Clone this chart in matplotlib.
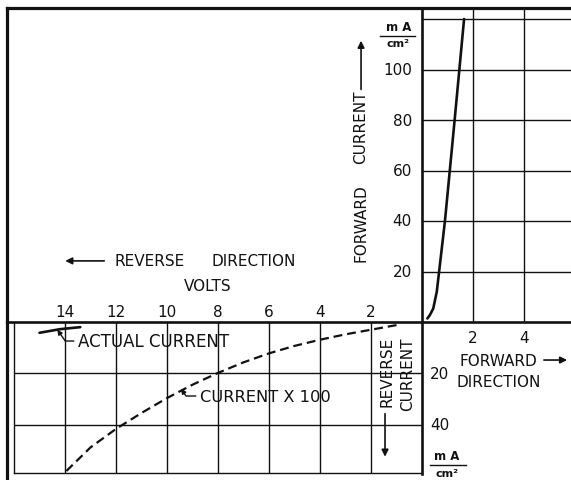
import matplotlib
matplotlib.use("Agg")
import matplotlib.pyplot as plt

# Forward characteristic (volts, mA/cm2)
fwd_volts = [0.21, 0.30, 0.44, 0.58, 0.90, 1.28, 1.65]
fwd_current = [1.4, 2.6, 5.3, 12.0, 40.0, 80.0, 120.0]

# Reverse characteristic, current x 100 (volts, mA/cm2)
rev_volts = [1, 2, 3, 4, 5, 6, 7, 8, 9, 10, 11, 12, 13, 14]
rev_current_x100 = [1.2, 3.0, 4.8, 6.9, 9.3, 12.2, 15.7, 19.8, 24.4, 29.6,
                    35.4, 41.6, 48.8, 58.5]

# Reverse characteristic, actual current
actual_volts = [15.0, 14.2, 13.4]
actual_current = [4.2, 2.8, 2.0]

# Grid / ticks
fwd_grid_volts = [2, 4]
fwd_grid_current = [20, 40, 60, 80, 100, 120]
fwd_tick_current = [20, 40, 60, 80, 100]
rev_grid_volts = [2, 4, 6, 8, 10, 12, 14]
rev_grid_current = [20, 40]

# pixel scale of the drawing
PX_V = 25.5
X0 = 422
Y0 = 323
PX_F = 2.525
PX_R = 2.57
W, H = 571, 481

fig = plt.figure(figsize=(W / 100, H / 100), dpi=100)
fig.patch.set_facecolor("white")
ax_f = fig.add_axes([0, (H - Y0) / H, 1, Y0 / H])
ax_r = fig.add_axes([0, 0, 1, (H - Y0) / H])

xlim = (-X0 / PX_V, (W - X0) / PX_V)
for ax in (ax_f, ax_r):
    ax.set_xlim(*xlim)
    ax.set_axis_off()
ax_f.set_ylim(0, Y0 / PX_F)
ax_r.set_ylim((H - Y0) / PX_R, 0)

ink = "#111111"
grid_lw = 1.0
axis_lw = 1.9
border_lw = 2.3
fs = 11

top = 124.4
left = -16.27
inner_left = -16.0
bottom = 58.6
right = xlim[1]

# border
ax_f.plot([left, right], [top, top], color=ink, lw=border_lw, clip_on=False)
ax_f.plot([left, left], [0, top], color=ink, lw=border_lw, clip_on=False)
ax_r.plot([left, left], [0, 62], color=ink, lw=border_lw, clip_on=False)
ax_r.plot([inner_left, inner_left], [0, bottom], color=ink, lw=grid_lw)
ax_r.plot([inner_left, 0], [bottom, bottom], color=ink, lw=grid_lw)

# grid, forward quadrant
ax_f.vlines(fwd_grid_volts, 0, top, color=ink, lw=grid_lw)
ax_f.hlines(fwd_grid_current, 0, right, color=ink, lw=grid_lw)
# grid, reverse quadrant
ax_r.vlines([-v for v in rev_grid_volts], 0, bottom, color=ink, lw=grid_lw)
ax_r.hlines(rev_grid_current, inner_left, 0, color=ink, lw=grid_lw)

# main axes
ax_f.plot([0, 0], [0, top], color=ink, lw=axis_lw, clip_on=False)
ax_r.plot([0, 0], [0, 59], color=ink, lw=axis_lw, clip_on=False)
ax_f.plot([left, right], [0, 0], color=ink, lw=axis_lw, clip_on=False)

# curves
ax_f.plot(fwd_volts, fwd_current, color=ink, lw=1.9, solid_capstyle="round",
          solid_joinstyle="round")
ax_r.plot([-v for v in rev_volts], rev_current_x100, color=ink, lw=1.6,
          ls=(0, (4, 2.2)))
ax_r.plot([-v for v in actual_volts], actual_current, color=ink, lw=1.9,
          solid_capstyle="round")

txt = dict(color=ink, fontsize=fs, family="DejaVu Sans")
leader = dict(arrowstyle="-|>", color=ink, lw=1.0, mutation_scale=7,
              shrinkA=1, shrinkB=0,
              connectionstyle="angle,angleA=0,angleB=-55,rad=0")
arrow = dict(arrowstyle="-|>", color=ink, lw=1.2, mutation_scale=10)

# reverse volts labels
for v in rev_grid_volts:
    ax_f.text(-v, 4.0, str(v), ha="center", va="center", **txt)
ax_f.text(-8.39, 14.3, "VOLTS", ha="center", va="center", **txt)
ax_f.text(-12.04, 24.2, "REVERSE", ha="left", va="center", **txt)
ax_f.text(-8.27, 24.2, "DIRECTION", ha="left", va="center", **txt)
ax_f.annotate("", xy=(-14.1, 24.2), xytext=(-12.35, 24.2), arrowprops=arrow)

# forward current labels
for c in fwd_tick_current:
    ax_f.text(-0.4, c, str(c), ha="right", va="center", **txt)
ax_f.text(-0.93, 117.0, "m A", ha="center", va="center", color=ink,
          fontsize=8.5, fontweight="bold")
ax_f.plot([-1.65, -0.27], [113.3, 113.3], color=ink, lw=1.0)
ax_f.text(-0.94, 110.4, "cm²", ha="center", va="center", color=ink,
          fontsize=8, fontweight="bold")
ax_f.text(-2.39, 39.6, "FORWARD", rotation=90, ha="center", va="center", **txt)
ax_f.text(-2.39, 77.6, "CURRENT", rotation=90, ha="center", va="center", **txt)
ax_f.annotate("", xy=(-2.39, 112.5), xytext=(-2.39, 91.0), arrowprops=arrow)

# reverse quadrant annotations
ax_r.annotate("ACTUAL CURRENT", xy=(-14.3, 3.0), xytext=(-13.49, 7.4),
              ha="left", va="center", arrowprops=leader,
              color=ink, fontsize=12, family="DejaVu Sans")
ax_r.annotate("CURRENT X 100", xy=(-9.45, 26.0), xytext=(-8.71, 28.8),
              ha="left", va="center", arrowprops=leader,
              color=ink, fontsize=11.7, family="DejaVu Sans")
ax_r.text(-1.37, 19.1, "REVERSE", rotation=90, ha="center", va="center", **txt)
ax_r.text(-0.55, 19.8, "CURRENT", rotation=90, ha="center", va="center", **txt)
ax_r.annotate("", xy=(-1.45, 53.5), xytext=(-1.45, 34.6), arrowprops=arrow)

# forward quadrant labels below the axis
for v in fwd_grid_volts:
    ax_r.text(v, 6.2, str(v), ha="center", va="center", **txt)
ax_r.text(1.49, 14.8, "FORWARD", ha="left", va="center", **txt)
ax_r.annotate("", xy=(5.8, 14.8), xytext=(4.67, 14.8), arrowprops=arrow,
              annotation_clip=False)
ax_r.text(1.37, 23.3, "DIRECTION", ha="left", va="center", **txt)
for c in rev_grid_current:
    ax_r.text(0.31, c, str(c), ha="left", va="center", **txt)
ax_r.text(0.98, 52.1, "m A", ha="center", va="center", color=ink,
          fontsize=8.5, fontweight="bold")
ax_r.plot([0.31, 1.73], [55.6, 55.6], color=ink, lw=1.0)
ax_r.text(0.98, 58.6, "cm²", ha="center", va="center", color=ink,
          fontsize=8, fontweight="bold")

fig.savefig("out.png", dpi=100, facecolor="white")
